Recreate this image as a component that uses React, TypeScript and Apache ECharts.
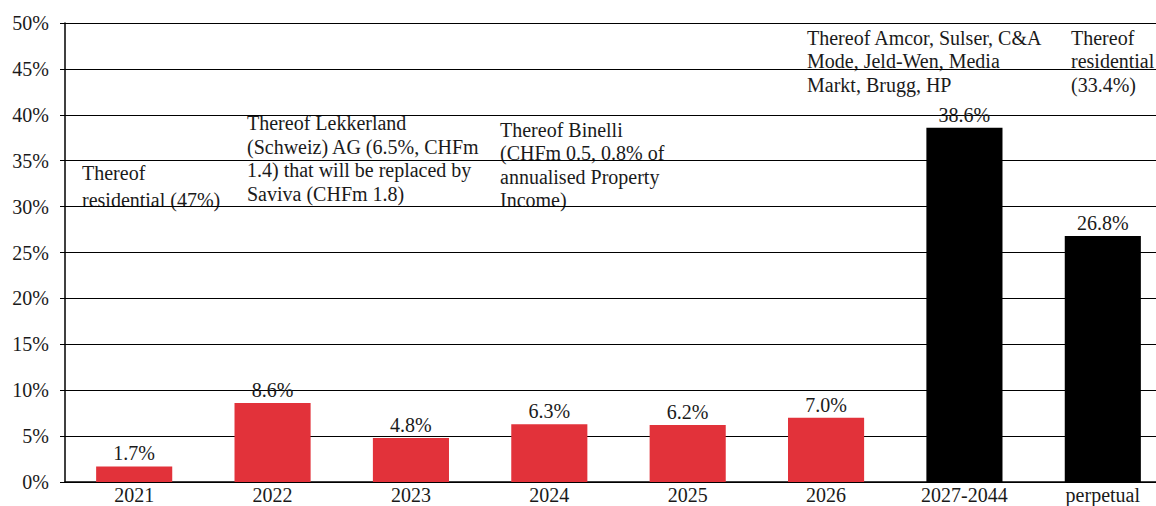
import React, { useEffect, useRef } from "react";
import * as echarts from "echarts";

const categories = ["2021", "2022", "2023", "2024", "2025", "2026", "2027-2044", "perpetual"];
const values = [1.7, 8.6, 4.8, 6.3, 6.2, 7.0, 38.6, 26.8];
const barColors = ["#E2323A", "#E2323A", "#E2323A", "#E2323A", "#E2323A", "#E2323A", "#000000", "#000000"];
const yTicks = { min: 0, max: 50, interval: 5 };
const notes = [
  { text: "Thereof\nresidential (47%)", x: 82, y: 159, lh: 27 },
  { text: "Thereof Lekkerland\n(Schweiz) AG (6.5%, CHFm\n1.4) that will be replaced by\nSaviva (CHFm 1.8)", x: 247, y: 111, lh: 23.7 },
  { text: "Thereof Binelli\n(CHFm 0.5, 0.8% of\nannualised Property\nIncome)", x: 500, y: 118, lh: 23.5 },
  { text: "Thereof Amcor, Sulser, C&A\nMode, Jeld-Wen, Media\nMarkt, Brugg, HP", x: 807, y: 26, lh: 23.5 },
  { text: "Thereof\nresidential\n(33.4%)", x: 1071, y: 26, lh: 23.5 },
];

const FONT = "Liberation Serif";
const FS = 20;

export default function App() {
  const ref = useRef<HTMLDivElement>(null);
  useEffect(() => {
    if (!ref.current) return;
    const chart = echarts.init(ref.current, null, { renderer: "svg" });
    chart.setOption({
      animation: false,
      backgroundColor: "#ffffff",
      textStyle: { fontFamily: FONT },
      grid: { left: 65, width: 1107, top: 23, bottom: 24, outerBoundsMode: "none", containLabel: false },
      xAxis: {
        type: "category",
        data: categories,
        axisLine: { show: true, lineStyle: { color: "#000", width: 1.5 } },
        axisTick: { show: false },
        axisLabel: { color: "#1a1a1a", fontSize: FS, fontFamily: FONT, margin: 3, lineHeight: 20, hideOverlap: false },
      },
      yAxis: {
        type: "value",
        min: yTicks.min,
        max: yTicks.max,
        interval: yTicks.interval,
        axisLine: { show: true, lineStyle: { color: "#000", width: 1.5 } },
        axisTick: { show: true, length: 5, lineStyle: { color: "#000" } },
        axisLabel: { formatter: "{value}%", color: "#1a1a1a", fontSize: FS, fontFamily: FONT, margin: 16 },
        splitLine: { show: true, lineStyle: { color: "#000", width: 1.2 } },
      },
      series: [
        {
          type: "bar",
          barWidth: "55%",
          data: values.map((v, i) => ({ value: v, itemStyle: { color: barColors[i] } })),
          label: {
            show: true,
            position: "top",
            distance: 3,
            formatter: (p: any) => p.value.toFixed(1) + "%",
            color: "#1a1a1a",
            fontSize: FS,
            fontFamily: FONT,
          },
        },
      ],
      graphic: notes.map((n) => ({
        type: "text",
        left: n.x,
        top: n.y,
        style: { text: n.text, fill: "#1a1a1a", fontSize: FS, fontFamily: FONT, lineHeight: n.lh },
      })),
    });
    return () => chart.dispose();
  }, []);
  return <div ref={ref} style={{ position: "absolute", left: 0, top: 0, width: 1156, height: 506 }} />;
}
